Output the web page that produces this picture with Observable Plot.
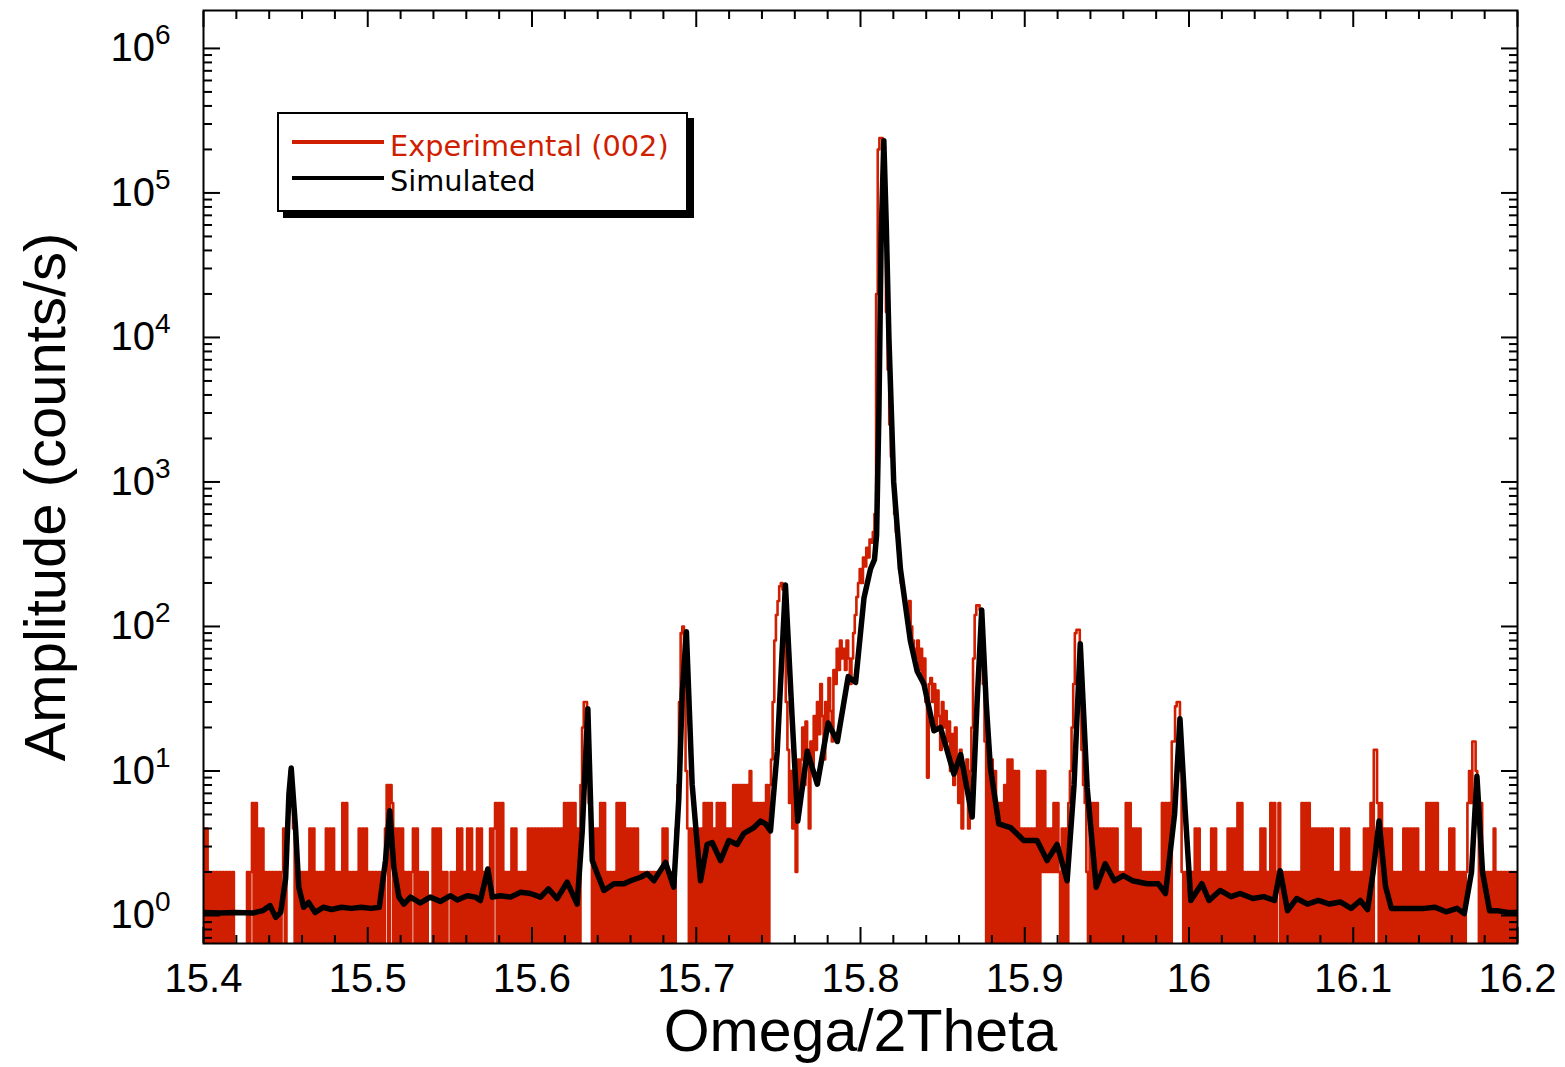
<!DOCTYPE html>
<html>
<head>
<meta charset="utf-8">
<script src="https://cdn.jsdelivr.net/npm/d3@7"></script>
<script src="https://cdn.jsdelivr.net/npm/@observablehq/plot@0.6"></script>
<style>
  body { margin: 0; background: #fff; }
  #wrap { position: relative; width: 1565px; height: 1067px; }
  #legend { position: absolute; left: 277px; top: 112px; width: 407px; height: 96px;
    border: 2px solid #000; background: #fff; box-shadow: 6px 6px 0 #000;
    font-family: "DejaVu Sans", sans-serif; font-size: 28.8px; line-height: 29px; }
  #legend .sw { position: absolute; left: 13px; width: 92px; height: 4px; }
  #legend .lb { position: absolute; left: 111px; white-space: nowrap; }
</style>
</head>
<body>
<div id="wrap"></div>
<script>
// ---- Experimental (002) counts/s, one value every 0.001 deg starting at 15.400 ----
const expStart = 15.4, expStep = 0.001;
const exp1 = [4,0,4, 0,2,0,2,0,2,0,2,0,2,0,2,0,2,0,2,0, 0,0,0,0,0,0,0, 2,0,2, 6,0,6,0, 4,0,4,0, 2,0,2,0,2,0,2,0,2,0,2, 4,0,4, 6,10,8,4, 0,2,0,2,0,2,0,2,0, 4,0,4,0, 2,0,2,0,2,0, 4,0,4,0,4, 0,2,0,2,0, 6,0,6, 0,2,0,2,0,2,0, 4,0,4,0,4];
const exp2 = [0,2,0,2,0,2,0,2,0,2, 0,4,8,0,8,6, 0, 4,0,4,0,4, 0,2,0,2,0,2, 4,0,4, 0,2,0,2,0,2, 0,0,0, 4,0,4,0,4, 0,2,0,2, 0,0, 2,0,2,0, 4,0,4,0, 2,0, 4,0,4,0, 2, 0,4,0,4,0, 2,0,2,0, 4,0,4, 6,0,6,0,6, 0,2,0,2, 0,4,0,4, 0,2,0,2,0,2,0, 4,0];
const exp3 = [4,0,4,0,4,0,4,0,4,0,4,0,4,0,4,0,4,0,4,0, 6,0,6,0,6,0,6,0, 4,0, 8,20,30,30,14,6, 4,0,4,0,4,0, 6,0,6,0, 2,0,2,0,2, 0,6,0,6,0,6,0, 4,0,4,0,4,0,4, 0,2,0,2,0,2,0,2,0,2,0,2,0,2,0, 4,0,4,0, 2,0,2,0,4, 8,30,90,100,40,10,4, 0,4,0,4];
const exp4 = [0,4,0, 4,0,6,0, 6,0,6, 0,4,0, 6,0,6,0,6, 0,4,0,4, 0,8,0,8,0,8,0,8,0,8, 0,10,0, 6,0,6,0,6,0,6, 0,8,0,8, 12,30,80,120,150,190,200,180,100,30, 14,6,10,4,8,2,12,6, 12,20,8,22,14,4,16,10, 24,14,30,18,40,24,12,30,20,44,26,16, 50,40,70,50,80,60,70,50,80,60,40,60,90,120,160,200];
const exp5 = [250,200,300,260,350,300,400,380,450,600, 20000,200000,240000,240000,200000,50000,15000,6000,2500,1500, 1000,600,450,350,250,200,180,150,140, 120,150,100,80,70,60,80,50,70,40,60,30,9,40, 44,30,40,20,36,24,14,30,20,26, 16,22,10,18,8,20,12,6,14,4,10,8,12,4,10,20, 60,120,140,140,130,100,40,16, 0,18,0,12,0,10,0, 6,0,6,0, 8,0, 12,0,12,0,10, 0,10,0,4,0];
const exp6 = [4,0,4,0,4,0,4,0,10, 0,10,2,10,2, 4,2,4,2, 6,2,6,2, 0,4,0,4,0, 6,10,20,40,90,95,95,50,14,8, 6,2, 0,6,0,6,0,6,0, 4,0,4,0,4,0,4,0,4,0,4, 0,2,0,2, 0,6,0,6,0, 4,0,4,0,4,0, 2,0,2,0,2,0,2,0,2,0,2, 0,6,0,6,0,6,0, 16,16,28,30,30,10,2, 0,2,0];
const exp7 = [2,0,2,0, 4,0,4, 0,2,0,2,0,2,0, 4,0,4, 0,2,0,2,0,2, 0,4,0,4,0,4,0, 6,0,6,0, 2,0,2,0,2,0,2,0,2,0, 4,0,4, 0,2,0, 6,0,6,0, 2, 6,0, 2,0,2,0,2,0,2,0,2,0,2,0, 6,0,6,0,6, 0,4,0,4,0,4,0,4,0,4,0,4,0,4,0, 2,0,2, 0,4,0,4,0,4,0, 2];
const exp8 = [0,2,0,2,0,2, 0,4,0,4,0, 6,0, 14,14,6, 0,6, 0,4,0,4,0,4, 0,2,0,2,0,2,0, 4,0,4,0,4,0,4,0,4,0, 2,0,2,0, 6,0,6,0,6,0,6, 0,2,0,2,0,2, 0,4,0,4, 0,2,0,2,0,2,0,2, 6, 10,6, 16,16,10, 6,0,6, 0,2,0,2,0,2, 0,4,0, 2,0,2,0,2,0,2,0,2,0,2,0,2];

// ---- Simulated curve: [Omega/2Theta, counts/s] ----
const simPoints = [
  [15.400,1.05],[15.410,1.04],[15.420,1.05],[15.430,1.04],[15.436,1.08],[15.4405,1.17],[15.444,0.97],[15.447,1.05],
  [15.450,1.8],[15.452,6.9],[15.4534,10.5],[15.456,4.1],[15.458,1.57],[15.461,1.14],[15.464,1.23],[15.468,1.05],
  [15.473,1.14],[15.478,1.10],[15.484,1.14],[15.490,1.12],[15.496,1.14],[15.502,1.12],[15.507,1.14],
  [15.5108,2.4],[15.5134,5.3],[15.5159,2.15],[15.519,1.34],[15.522,1.2],[15.526,1.34],[15.532,1.22],[15.538,1.34],
  [15.5443,1.25],[15.5504,1.37],[15.5545,1.28],[15.5606,1.37],[15.5656,1.34],[15.5686,1.27],[15.5731,2.1],[15.5758,1.34],
  [15.5808,1.37],[15.5869,1.34],[15.593,1.45],[15.599,1.42],[15.6052,1.34],[15.610,1.53],[15.6153,1.31],[15.6214,1.70],
  [15.6275,1.2],[15.6306,3.85],[15.634,27],[15.6367,2.4],[15.6397,1.95],[15.6438,1.49],[15.6499,1.66],[15.656,1.66],
  [15.660,1.74],[15.6661,1.84],[15.6701,1.95],[15.6742,1.74],[15.6813,2.33],[15.6863,1.57],[15.6894,6.5],[15.6915,35],
  [15.694,92],[15.6975,8.1],[15.7006,3.1],[15.7026,1.74],[15.7066,3.1],[15.7097,3.2],[15.7148,2.4],[15.7198,3.3],
  [15.7249,3.1],[15.729,3.7],[15.7351,4.06],[15.7391,4.5],[15.7422,4.3],[15.7452,3.85],[15.7493,13.7],[15.7543,194],
  [15.7584,23],[15.7618,4.5],[15.7676,13.7],[15.7737,8.1],[15.7803,21.5],[15.7859,16],[15.7925,45],[15.797,41],
  [15.8021,157],[15.8061,250],[15.8085,290],[15.8098,430],[15.8112,3000],[15.8126,50000],[15.8142,230000],[15.8157,60000],
  [15.8173,10000],[15.8202,1000],[15.8243,250],[15.8304,79],[15.8345,49],[15.8386,40],[15.8447,19],[15.8487,20],
  [15.8569,9.5],[15.861,13],[15.868,4.8],[15.871,30],[15.8738,130],[15.8765,30],[15.8791,10.5],[15.8842,4.3],
  [15.8913,4.06],[15.8994,3.3],[15.9075,3.3],[15.9136,2.4],[15.9197,3.1],[15.9258,1.74],[15.930,8],[15.9338,76],
  [15.938,7.7],[15.9435,1.57],[15.949,2.28],[15.9546,1.74],[15.960,1.89],[15.9656,1.74],[15.9745,1.66],[15.9812,1.66],
  [15.9857,1.42],[15.9912,5.0],[15.9945,23],[15.9978,5],[16.0011,1.27],[16.0078,1.66],[16.0122,1.27],[16.0189,1.49],
  [16.0256,1.35],[16.0311,1.42],[16.0389,1.31],[16.0455,1.35],[16.052,1.27],[16.0555,2.04],[16.060,1.08],[16.0655,1.31],
  [16.0721,1.2],[16.0788,1.27],[16.0855,1.2],[16.0921,1.24],[16.0987,1.12],[16.1043,1.27],[16.1087,1.1],[16.1121,2.0],
  [16.1157,4.5],[16.1196,1.6],[16.1232,1.12],[16.1343,1.12],[16.1432,1.12],[16.1498,1.14],[16.1565,1.06],[16.1632,1.12],
  [16.1676,1.03],[16.172,2.0],[16.1753,9.2],[16.1787,2.0],[16.183,1.08],[16.1875,1.08],[16.194,1.05],[16.200,1.05]
];

// ---- Axes ----
const xDomain = [15.4, 16.2];
const yDomain = [0.64, 1.83e6];
const xMajorTicks = [15.4, 15.5, 15.6, 15.7, 15.8, 15.9, 16.0, 16.1, 16.2];
const yMajorTicks = [1, 10, 100, 1e3, 1e4, 1e5, 1e6];
const xMinorTicks = d3.range(0, 41).map(i => +(15.4 + i * 0.02).toFixed(2)).filter(v => !xMajorTicks.some(m => Math.abs(m - v) < 1e-9));
const yMinorTicks = [];
for (let k = -1; k <= 6; k++) for (let m = 2; m <= 9; m++) {
  const v = +(m * Math.pow(10, k)).toPrecision(3);
  if (v >= yDomain[0] && v <= yDomain[1]) yMinorTicks.push(v);
}
const zeroFloor = 0.1; // zero counts drop below the axis (clipped)

const expAll = [...exp1, ...exp2, ...exp3, ...exp4, ...exp5, ...exp6, ...exp7, ...exp8];
const expData = expAll.map((v, i) => ({x: +(expStart + i * expStep).toFixed(3), v}));
const simData = simPoints.map(([x, y]) => ({x, y}));

const tickOnly = {label: null, tickFormat: () => "", strokeWidth: 2};

const plot = Plot.plot({
  width: 1565,
  height: 1067,
  marginLeft: 203,
  marginRight: 48,
  marginTop: 10,
  marginBottom: 124,
  style: {fontFamily: '"Liberation Sans", Arial, sans-serif', background: "white", color: "black"},
  x: {domain: xDomain},
  y: {type: "log", domain: yDomain},
  marks: [
    Plot.line(expData, {x: "x", y: d => (d.v > 0 ? d.v : zeroFloor), curve: "step", stroke: "#d01e00", strokeWidth: 2.6, clip: true}),
    Plot.line(simData, {x: "x", y: "y", stroke: "black", strokeWidth: 5.5, strokeLinejoin: "round", strokeLinecap: "round", clip: true}),
    Plot.frame({stroke: "black", strokeWidth: 2}),
    Plot.axisX(xMajorTicks, {anchor: "bottom", tickSize: -16, ...tickOnly}),
    Plot.axisX(xMinorTicks, {anchor: "bottom", tickSize: -8, ...tickOnly}),
    Plot.axisX(xMajorTicks, {anchor: "top", tickSize: -16, ...tickOnly}),
    Plot.axisX(xMinorTicks, {anchor: "top", tickSize: -8, ...tickOnly}),
    Plot.axisY(yMajorTicks, {anchor: "left", tickSize: -17, ...tickOnly}),
    Plot.axisY(yMinorTicks, {anchor: "left", tickSize: -9, ...tickOnly}),
    Plot.axisY(yMajorTicks, {anchor: "right", tickSize: -17, ...tickOnly}),
    Plot.axisY(yMinorTicks, {anchor: "right", tickSize: -9, ...tickOnly}),
    Plot.axisX(xMajorTicks, {anchor: "bottom", tickSize: 0, tickPadding: 20, fontSize: 40, label: null,
      tickFormat: d => String(Math.round(d * 10) / 10)}),
    Plot.axisY(yMajorTicks, {anchor: "left", tickSize: 0, tickPadding: 33, fontSize: 40, label: null,
      tickFormat: d => "10|" + Math.round(Math.log10(d))}),
    Plot.text(["Omega/2Theta"], {frameAnchor: "bottom", dy: 89, fontSize: 59, textAnchor: "middle", lineAnchor: "middle"}),
    Plot.text(["Amplitude (counts/s)"], {frameAnchor: "left", dx: -157, dy: 20, rotate: -90, fontSize: 58, textAnchor: "middle", lineAnchor: "middle"})
  ]
});

// superscript exponents on the y tick labels
plot.querySelectorAll("text").forEach(t => {
  const s = t.textContent;
  if (!s.includes("|")) return;
  const [base, ex] = s.split("|");
  t.textContent = base;
  const ts = document.createElementNS("http://www.w3.org/2000/svg", "tspan");
  ts.setAttribute("dy", "-17");
  ts.setAttribute("font-size", "28");
  ts.textContent = ex;
  t.appendChild(ts);
});

const wrap = document.getElementById("wrap");
wrap.appendChild(plot);

// legend (inside the plot area, as in the reference)
const legendItems = [
  {label: "Experimental (002)", color: "#d01e00", lineTop: 26, textTop: 18},
  {label: "Simulated", color: "#000000", lineTop: 62, textTop: 53}
];
const legend = document.createElement("div");
legend.id = "legend";
legendItems.forEach(item => {
  const sw = document.createElement("div");
  sw.className = "sw";
  sw.style.top = item.lineTop + "px";
  sw.style.background = item.color;
  const lb = document.createElement("div");
  lb.className = "lb";
  lb.style.top = item.textTop + "px";
  lb.style.color = item.color;
  lb.textContent = item.label;
  legend.appendChild(sw);
  legend.appendChild(lb);
});
wrap.appendChild(legend);
</script>
</body>
</html>
